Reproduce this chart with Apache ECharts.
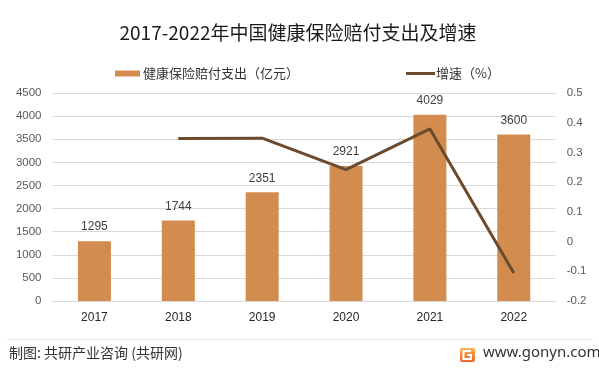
<!DOCTYPE html>
<html>
<head>
<meta charset="utf-8">
<script src="https://cdn.jsdelivr.net/npm/echarts@6/dist/echarts.min.js"></script>
<style>
html,body{margin:0;padding:0;background:#fff;}
#c{width:599px;height:372px;}
</style>
</head>
<body>
<div id="c"></div>
<script>
const categories = ['2017','2018','2019','2020','2021','2022'];
const payout = [1295, 1744, 2351, 2921, 4029, 3600];
const growth = [null, 0.347, 0.348, 0.242, 0.379, -0.106];
const leftTicks = [0, 4500, 500];
const rightTicks = [-0.2, 0.5, 0.1];

const FONT = '"Noto Sans CJK SC", "Noto Sans", sans-serif';
const chart = echarts.init(document.getElementById('c'), null, {renderer: 'canvas'});

chart.setOption({
  backgroundColor: '#ffffff',
  animation: false,
  textStyle: {fontFamily: FONT},
  title: {
    text: '2017-2022年中国健康保险赔付支出及增速',
    left: 293, top: 18, textAlign: 'center',
    textStyle: {fontSize: 19, fontWeight: 'normal', color: '#1a1a1a', fontFamily: FONT}
  },
  legend: [
    {
      data: [{name: '健康保险赔付支出（亿元）', icon: 'rect'}],
      left: 110, top: 62,
      itemWidth: 25, itemHeight: 6, itemGap: 3,
      textStyle: {fontSize: 13, color: '#333', fontFamily: FONT, padding: [0,0,0,-2]}
    },
    {
      data: [{name: '增速（%）', icon: 'rect', itemStyle: {color: '#6B4A2E'}}],
      left: 401, top: 62,
      itemWidth: 29, itemHeight: 3,
      textStyle: {fontSize: 13, color: '#333', fontFamily: FONT, padding: [0,0,0,-4]}
    }
  ],
  grid: {left: 52.5, right: 43.3, top: 93, bottom: 71, containLabel: false},
  xAxis: {
    type: 'category',
    data: categories,
    axisTick: {show: false},
    axisLine: {show: true, lineStyle: {color: '#d9d9d9', width: 1}},
    axisLabel: {fontSize: 12, color: '#262626', margin: 11, fontFamily: '"Liberation Sans", sans-serif'}
  },
  yAxis: [
    {
      type: 'value', min: leftTicks[0], max: leftTicks[1], interval: leftTicks[2],
      axisLine: {show: false}, axisTick: {show: false},
      splitLine: {lineStyle: {color: '#d9d9d9', width: 1}},
      axisLabel: {fontSize: 11.5, color: '#595959', margin: 11, fontFamily: '"Liberation Sans", sans-serif',
        formatter: v => String(v)}
    },
    {
      type: 'value', min: rightTicks[0], max: rightTicks[1], interval: rightTicks[2],
      axisLine: {show: false}, axisTick: {show: false},
      splitLine: {show: false},
      axisLabel: {fontSize: 11.5, color: '#595959', margin: 11, fontFamily: '"Liberation Sans", sans-serif',
        formatter: v => (Math.round(v*10)/10).toString()}
    }
  ],
  series: [
    {
      name: '健康保险赔付支出（亿元）',
      type: 'bar',
      data: payout,
      barWidth: 33,
      itemStyle: {color: '#D38C4F'},
      label: {show: true, position: 'top', distance: 8, fontSize: 12, color: '#404040',
        fontFamily: '"Liberation Sans", sans-serif'}
    },
    {
      name: '增速（%）',
      type: 'line',
      yAxisIndex: 1,
      data: growth,
      symbol: 'none',
      lineStyle: {color: '#6B4A2E', width: 3},
      itemStyle: {color: '#6B4A2E'}
    }
  ],
  graphic: [
    {type: 'line', shape: {x1: 7, y1: 339.5, x2: 593, y2: 339.5}, style: {stroke: '#e6e6e6', lineWidth: 1}},
    {type: 'text', left: 9, top: 346, style: {text: '制图: 共研产业咨询 (共研网)', font: '14px "Noto Sans CJK SC", sans-serif', fill: '#333'}},
    {type: 'rect', shape: {x: 460, y: 348, width: 15, height: 14, r: 2},
      style: {fill: new echarts.graphic.LinearGradient(0,0,0,1,[{offset:0,color:'#f9b04d'},{offset:1,color:'#f2652f'}])}},
    {type: 'polyline', shape: {points: [[471,351],[463.5,351],[463.5,359],[471,359],[471,355],[467.5,355]]},
      style: {stroke: '#fff', lineWidth: 2, fill: null}},
    {type: 'text', left: 483, top: 345, style: {text: 'www.gonyn.com', font: '15px "Noto Sans", sans-serif', fill: '#333'}}
  ]
});
</script>
</body>
</html>
